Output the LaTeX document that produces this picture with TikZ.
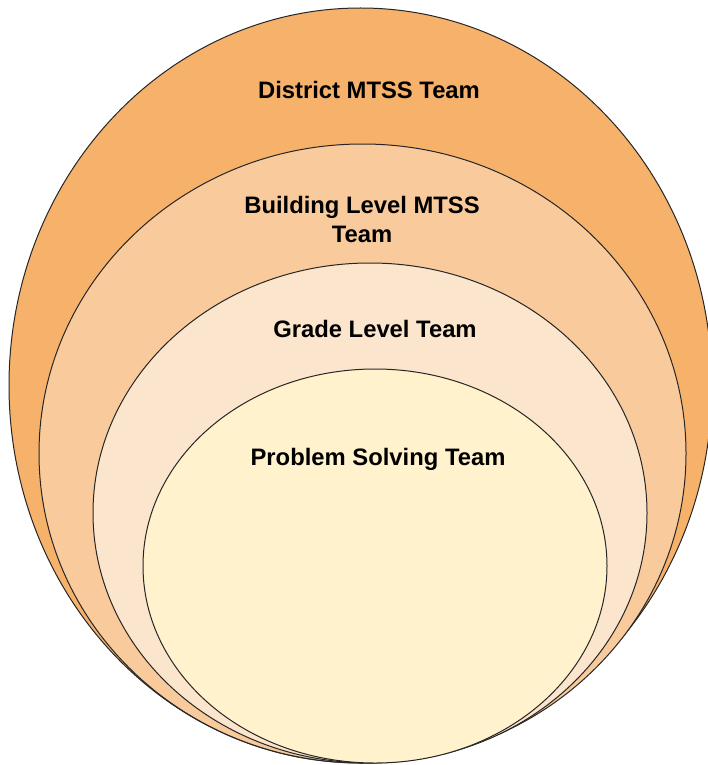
\documentclass[tikz,border=0pt]{standalone}
\usepackage{fontspec}
\setmainfont{Liberation Sans}
\definecolor{ringA}{HTML}{F6B26B}
\definecolor{ringB}{HTML}{F9CB9C}
\definecolor{ringC}{HTML}{FCE5CD}
\definecolor{ringD}{HTML}{FFF2CC}
\begin{document}
\begin{tikzpicture}[x=1pt,y=-1pt,
  ring/.style={draw=black!85,line width=1pt},
  teamlabel/.style={font=\fontsize{23.8}{29}\selectfont\bfseries,align=center,anchor=base,inner sep=0pt}]
  \useasboundingbox (0,0) rectangle (708,765);
  \clip (0,0) rectangle (708,765);
  % nested team levels, outermost first
  \filldraw[ring,fill=ringA] (360.5,385.5) ellipse [x radius=351.5,y radius=377.5];
  \filldraw[ring,fill=ringB] (362.5,453.5) ellipse [x radius=323.5,y radius=309.5];
  \filldraw[ring,fill=ringC] (370,513) ellipse [x radius=277,y radius=250];
  \filldraw[ring,fill=ringD] (375,566) ellipse [x radius=232,y radius=197];
  % labels (a two-line label sits on its last baseline)
  \node[teamlabel] (district) at (369,99) {District MTSS Team};
  \node[teamlabel] (building) at (362,242) {Building Level MTSS\\Team};
  \node[teamlabel] (grade) at (375,337) {Grade Level Team};
  \node[teamlabel] (problem) at (378,465) {Problem Solving Team};
\end{tikzpicture}
\end{document}
